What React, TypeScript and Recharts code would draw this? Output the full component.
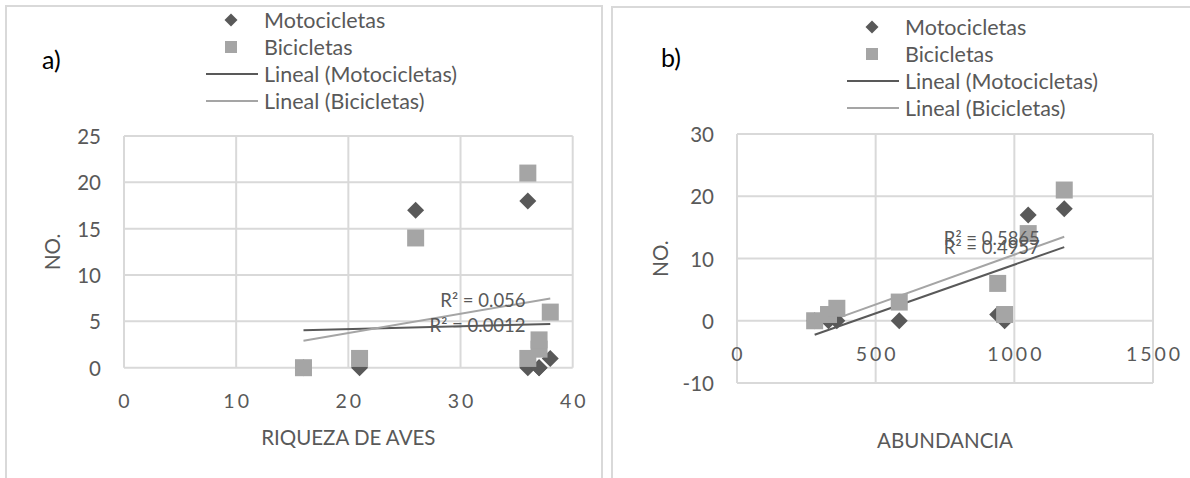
import React from 'react';
import {
  ScatterChart,
  Scatter,
  XAxis,
  YAxis,
  CartesianGrid,
  ReferenceLine,
  ReferenceDot,
} from 'recharts';

// ---- data (one entry per sampling site) ----
const riqueza = [16, 21, 36, 37, 37, 38, 26, 36];
const abundancia = [280, 330, 965, 360, 585, 940, 1050, 1180];
const motocicletas = [0, 0, 0, 0, 0, 1, 17, 18];
const bicicletas = [0, 1, 1, 2, 3, 6, 14, 21];

const seriesNames = ['Motocicletas', 'Bicicletas', 'Lineal (Motocicletas)', 'Lineal (Bicicletas)'];

const ticksAx = [0, 10, 20, 30, 40];
const ticksAy = [0, 5, 10, 15, 20, 25];
const ticksBx = [0, 500, 1000, 1500];
const ticksBy = [-10, 0, 10, 20, 30];

// R² labels [motocicletas, bicicletas] and their anchor (right end, data coords)
const r2TextA = ['R² = 0.0012', 'R² = 0.056'];
const r2PosA = [{ x: 35.8, y: 4.6 }, { x: 35.8, y: 7.3 }];
const r2TextB = ['R² = 0.4957', 'R² = 0.5865'];
const r2PosB = [{ x: 1092, y: 11.9 }, { x: 1092, y: 13.3 }];

const DARK = '#595959';
const LIGHT = '#a5a5a5';
const GRID = '#d9d9d9';
const FONT = "Lato, 'Open Sans', sans-serif";

function fitLine(xs: number[], ys: number[]) {
  const n = xs.length;
  const mx = xs.reduce((a, b) => a + b, 0) / n;
  const my = ys.reduce((a, b) => a + b, 0) / n;
  let sxy = 0;
  let sxx = 0;
  for (let i = 0; i < n; i++) {
    sxy += (xs[i] - mx) * (ys[i] - my);
    sxx += (xs[i] - mx) * (xs[i] - mx);
  }
  const slope = sxy / sxx;
  const b = my - slope * mx;
  const x0 = Math.min(...xs);
  const x1 = Math.max(...xs);
  return [
    { x: x0, y: b + slope * x0 },
    { x: x1, y: b + slope * x1 },
  ];
}

const Diamond = (props: any) => {
  const { cx, cy } = props;
  const h = 8.5;
  return (
    <polygon
      points={`${cx},${cy - h} ${cx + h},${cy} ${cx},${cy + h} ${cx - h},${cy}`}
      fill={DARK}
    />
  );
};

const Square = (props: any) => {
  const { cx, cy } = props;
  const h = 8.5;
  return <rect x={cx - h} y={cy - h} width={2 * h} height={2 * h} fill={LIGHT} />;
};

const LegendBox = ({ left, top }: { left: number; top: number }) => {
  const rows = [20, 47, 74, 101].map((r) => r + top);
  const mx = left + 31;
  return (
    <g>
      <polygon points={`${mx},${rows[0] - 6.5} ${mx + 6.5},${rows[0]} ${mx},${rows[0] + 6.5} ${mx - 6.5},${rows[0]}`} fill={DARK} />
      <rect x={mx - 6} y={rows[1] - 6} width={12} height={12} fill={LIGHT} />
      <line x1={left + 6} x2={left + 58} y1={rows[2]} y2={rows[2]} stroke={DARK} strokeWidth={2} />
      <line x1={left + 6} x2={left + 58} y1={rows[3]} y2={rows[3]} stroke={LIGHT} strokeWidth={2} />
      {seriesNames.map((s, i) => (
        <text
          key={s}
          x={left + 64}
          y={rows[i]}
          dominantBaseline="central"
          fill={DARK}
          fontSize={21.5}
          fontFamily={FONT}
        >
          {s}
        </text>
      ))}
    </g>
  );
};

type PanelProps = {
  left: number;
  width: number;
  xs: number[];
  xTicks: number[];
  yTicks: number[];
  plot: { left: number; top: number; right: number; bottom: number };
  xTitle: string;
  tag: string;
  tagPos: { x: number; y: number };
  yTitleX: number;
  xTitleY: number;
  legendLeft: number;
  legendTop: number;
  r2Text: string[];
  r2Pos: { x: number; y: number }[];
};

const Panel = (p: PanelProps) => {
  const H = 478;
  const yAxisW = 60;
  const xAxisH = 30;
  const yMin = p.yTicks[0];
  const yMax = p.yTicks[p.yTicks.length - 1];
  const plotH = p.plot.bottom - p.plot.top;
  const zeroPx = p.plot.bottom - (plotH * (0 - yMin)) / (yMax - yMin);
  const tickLabelY = zeroPx + 33;
  const motoData = p.xs.map((x, i) => ({ x, y: motocicletas[i] }));
  const biciData = p.xs.map((x, i) => ({ x, y: bicicletas[i] }));
  const motoFit = fitLine(p.xs, motocicletas);
  const biciFit = fitLine(p.xs, bicicletas);
  const cx = (p.plot.left + p.plot.right) / 2;
  const cy = (p.plot.top + p.plot.bottom) / 2;

  return (
    <div style={{ position: 'absolute', left: p.left, top: 0, width: p.width, height: H }}>
      <ScatterChart
        width={p.width}
        height={H}
        margin={{
          top: p.plot.top,
          right: p.width - p.plot.right,
          bottom: H - p.plot.bottom - xAxisH,
          left: p.plot.left - yAxisW,
        }}
        style={{ fontFamily: FONT }}
      >
        <CartesianGrid stroke={GRID} strokeWidth={2} horizontalValues={p.yTicks} verticalValues={p.xTicks} />
        <XAxis
          type="number"
          dataKey="x"
          domain={[p.xTicks[0], p.xTicks[p.xTicks.length - 1]]}
          ticks={p.xTicks}
          axisLine={false}
          tickLine={false}
          height={xAxisH}
          interval={0}
          tick={(t: any) => (
            <text
              x={t.x}
              y={tickLabelY}
              textAnchor="middle"
              dominantBaseline="central"
              fill={DARK}
              fontSize={19.5}
              fontFamily={FONT}
              letterSpacing={3}
              dx={1.5}
            >
              {t.payload.value}
            </text>
          )}
        />
        <YAxis
          type="number"
          dataKey="y"
          domain={[yMin, yMax]}
          ticks={p.yTicks}
          axisLine={false}
          tickLine={false}
          width={yAxisW}
          interval={0}
          tick={(t: any) => (
            <text
              x={p.plot.left - 23}
              y={t.y}
              textAnchor="end"
              dominantBaseline="central"
              fill={DARK}
              fontSize={20.5}
              fontFamily={FONT}
            >
              {t.payload.value}
            </text>
          )}
        />
        <Scatter name={seriesNames[0]} data={motoData} shape={Diamond} isAnimationActive={false} />
        <Scatter name={seriesNames[1]} data={biciData} shape={Square} isAnimationActive={false} />
        <ReferenceDot
          x={p.r2Pos[0].x}
          y={p.r2Pos[0].y}
          r={0}
          ifOverflow="visible"
          shape={(s: any) => (
            <text x={s.cx} y={s.cy} textAnchor="end" dominantBaseline="central" fill={DARK} fontSize={18.5} fontFamily={FONT}>
              {p.r2Text[0]}
            </text>
          )}
        />
        <ReferenceDot
          x={p.r2Pos[1].x}
          y={p.r2Pos[1].y}
          r={0}
          ifOverflow="visible"
          shape={(s: any) => (
            <text x={s.cx} y={s.cy} textAnchor="end" dominantBaseline="central" fill={DARK} fontSize={18.5} fontFamily={FONT}>
              {p.r2Text[1]}
            </text>
          )}
        />
        <ReferenceLine segment={motoFit} stroke={DARK} strokeWidth={2} ifOverflow="visible" />
        <ReferenceLine segment={biciFit} stroke={LIGHT} strokeWidth={2} ifOverflow="visible" />
      </ScatterChart>
      <svg
        width={p.width}
        height={H}
        style={{ position: 'absolute', left: 0, top: 0, pointerEvents: 'none' }}
      >
        <LegendBox left={p.legendLeft} top={p.legendTop} />
        <text x={p.tagPos.x} y={p.tagPos.y} dominantBaseline="central" fill="#000" fontSize={25} fontFamily={FONT}>
          {p.tag}
        </text>
        <text x={cx} y={p.xTitleY} textAnchor="middle" dominantBaseline="central" fill={DARK} fontSize={20.5} fontFamily={FONT}>
          {p.xTitle}
        </text>
        <text
          x={p.yTitleX}
          y={cy}
          textAnchor="middle"
          dominantBaseline="central"
          fill={DARK}
          fontSize={20.5}
          fontFamily={FONT}
          transform={`rotate(-90 ${p.yTitleX} ${cy})`}
        >
          NO.
        </text>
      </svg>
    </div>
  );
};

export default function App() {
  return (
    <div
      style={{
        position: 'absolute',
        left: 0,
        top: 0,
        width: 1190,
        height: 478,
        overflow: 'hidden',
        background: '#fff',
      }}
    >
      <div
        style={{
          position: 'absolute',
          left: 5,
          top: 5,
          width: 594,
          height: 490,
          border: `2px solid ${GRID}`,
        }}
      />
      <div
        style={{
          position: 'absolute',
          left: 611,
          top: 6,
          width: 600,
          height: 490,
          border: `2px solid ${GRID}`,
        }}
      />
      <Panel
        left={0}
        width={600}
        xs={riqueza}
        xTicks={ticksAx}
        yTicks={ticksAy}
        plot={{ left: 124, top: 136, right: 572.7, bottom: 367.7 }}
        xTitle="RIQUEZA DE AVES"
        tag="a)"
        tagPos={{ x: 42, y: 59 }}
        yTitleX={52}
        xTitleY={437}
        legendLeft={200}
        legendTop={0}
        r2Text={r2TextA}
        r2Pos={r2PosA}
      />
      <Panel
        left={600}
        width={590}
        xs={abundancia}
        xTicks={ticksBx}
        yTicks={ticksBy}
        plot={{ left: 137, top: 134, right: 553, bottom: 383 }}
        xTitle="ABUNDANCIA"
        tag="b)"
        tagPos={{ x: 61, y: 57 }}
        yTitleX={60}
        xTitleY={440}
        legendLeft={241}
        legendTop={7}
        r2Text={r2TextB}
        r2Pos={r2PosB}
      />
    </div>
  );
}
